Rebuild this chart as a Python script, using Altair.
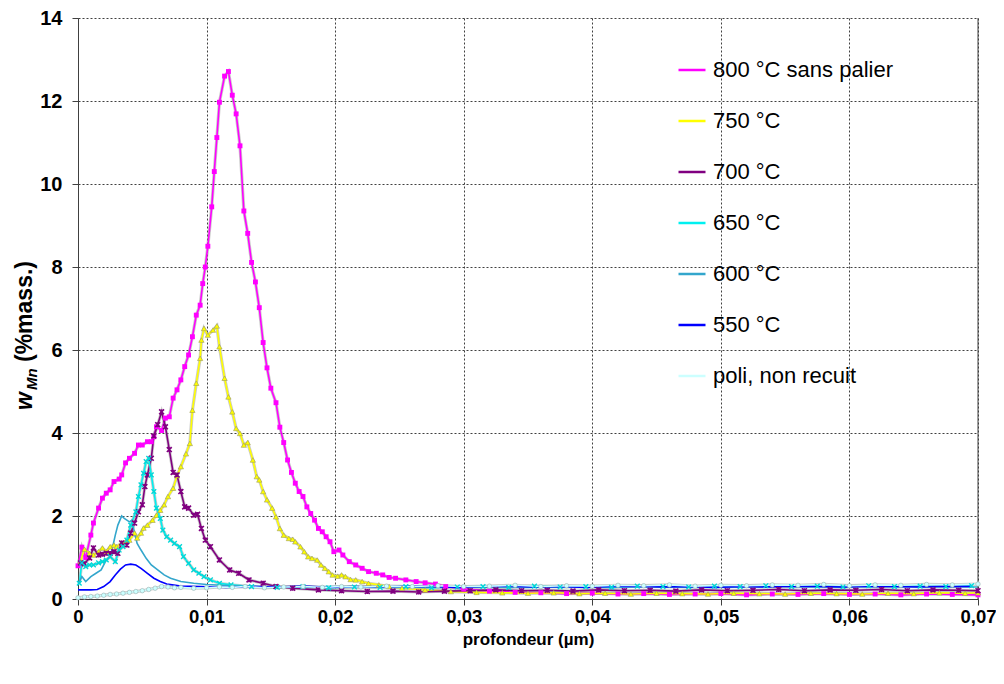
import altair as alt
import pandas as pd

SERIES = ["800 °C sans palier", "750 °C", "700 °C", "650 °C", "600 °C", "550 °C", "poli, non recuit"]
COLORS = ["#FF00FF", "#FFFF00", "#800080", "#00F0F0", "#33A6CC", "#0000FF", "#CCFFFF"]
X_TICKS = [0, 0.01, 0.02, 0.03, 0.04, 0.05, 0.06, 0.07]
Y_TICKS = [0, 2, 4, 6, 8, 10, 12, 14]

X800 = [0.0000, 0.0003, 0.0006, 0.0010, 0.0012, 0.0016, 0.0019, 0.0022, 0.0025, 0.0028,
        0.0032, 0.0034, 0.0037, 0.0040, 0.0044, 0.0047, 0.0050, 0.0054, 0.0057, 0.0059,
        0.0061, 0.0065, 0.0068, 0.0071, 0.0074, 0.0077, 0.0080, 0.0083, 0.0086, 0.0089,
        0.0092, 0.0095, 0.0097, 0.0099, 0.0101, 0.0104, 0.0106, 0.0108, 0.0110, 0.0114,
        0.0117, 0.0120, 0.0123, 0.0126, 0.0129, 0.0132, 0.0135, 0.0138, 0.0141, 0.0144,
        0.0147, 0.0150, 0.0154, 0.0157, 0.0160, 0.0163, 0.0166, 0.0169, 0.0172, 0.0175,
        0.0178, 0.0181, 0.0184, 0.0187, 0.0190, 0.0193, 0.0196, 0.0199, 0.0203, 0.0206,
        0.0211, 0.0216, 0.0221, 0.0226, 0.0232, 0.0237, 0.0242, 0.0247, 0.0255, 0.0263,
        0.0270, 0.0278, 0.0286, 0.0300, 0.0320, 0.0340, 0.0360, 0.0380, 0.0400, 0.0420,
        0.0440, 0.0460, 0.0480, 0.0500, 0.0520, 0.0540, 0.0560, 0.0580, 0.0600, 0.0620,
        0.0640, 0.0660, 0.0680, 0.0700]
Y800 = [0.80, 1.25, 1.00, 1.54, 1.83, 2.19, 2.43, 2.55, 2.63, 2.83,
        2.89, 2.99, 3.28, 3.39, 3.51, 3.71, 3.71, 3.79, 3.79, 3.91,
        4.15, 4.06, 4.36, 4.39, 4.84, 5.04, 5.28, 5.60, 5.88, 6.32,
        6.84, 7.08, 7.60, 8.00, 8.50, 9.45, 10.30, 11.12, 11.97, 12.60,
        12.71, 12.14, 11.69, 10.92, 9.35, 8.81, 8.11, 7.64, 7.02, 6.18,
        5.57, 5.08, 4.73, 4.14, 3.77, 3.35, 3.05, 2.79, 2.59, 2.47,
        2.22, 2.06, 1.90, 1.70, 1.62, 1.50, 1.38, 1.14, 1.18, 1.06,
        0.90, 0.82, 0.74, 0.66, 0.62, 0.58, 0.52, 0.50, 0.46, 0.42,
        0.39, 0.36, 0.30, 0.24, 0.19, 0.16, 0.15, 0.13, 0.14, 0.12,
        0.13, 0.11, 0.12, 0.13, 0.10, 0.12, 0.11, 0.13, 0.11, 0.12,
        0.10, 0.12, 0.11, 0.10]

X750 = [0.0002, 0.0005, 0.0009, 0.0012, 0.0016, 0.0019, 0.0022, 0.0025, 0.0028, 0.0030,
        0.0034, 0.0037, 0.0040, 0.0044, 0.0046, 0.0049, 0.0051, 0.0054, 0.0058, 0.0061,
        0.0064, 0.0067, 0.0070, 0.0074, 0.0077, 0.0080, 0.0084, 0.0087, 0.0089, 0.0092,
        0.0095, 0.0096, 0.0098, 0.0101, 0.0105, 0.0108, 0.0110, 0.0114, 0.0117, 0.0120,
        0.0123, 0.0126, 0.0129, 0.0132, 0.0136, 0.0139, 0.0141, 0.0144, 0.0147, 0.0151,
        0.0154, 0.0157, 0.0160, 0.0164, 0.0167, 0.0169, 0.0173, 0.0176, 0.0179, 0.0182,
        0.0186, 0.0189, 0.0192, 0.0195, 0.0198, 0.0202, 0.0205, 0.0208, 0.0212, 0.0216,
        0.0221, 0.0226, 0.0234, 0.0242, 0.0252, 0.0270, 0.0290, 0.0310, 0.0330, 0.0350,
        0.0370, 0.0390, 0.0410, 0.0430, 0.0450, 0.0470, 0.0490, 0.0510, 0.0530, 0.0550,
        0.0570, 0.0590, 0.0610, 0.0630, 0.0650, 0.0670, 0.0690, 0.0700]
Y750 = [0.90, 1.20, 1.10, 1.06, 1.14, 1.23, 1.14, 1.26, 1.30, 1.26,
        1.35, 1.38, 1.42, 1.59, 1.47, 1.59, 1.71, 1.78, 1.90, 2.02,
        2.14, 2.27, 2.47, 2.67, 2.97, 3.19, 3.50, 3.75, 4.55, 5.20,
        5.80, 6.24, 6.52, 6.36, 6.48, 6.58, 6.08, 5.32, 4.87, 4.51,
        4.11, 3.99, 3.71, 3.77, 3.35, 2.95, 2.87, 2.59, 2.39, 2.19,
        1.98, 1.70, 1.54, 1.46, 1.44, 1.38, 1.26, 1.14, 1.02, 0.98,
        0.94, 0.82, 0.74, 0.66, 0.58, 0.55, 0.58, 0.54, 0.47, 0.46,
        0.42, 0.38, 0.34, 0.30, 0.26, 0.22, 0.18, 0.16, 0.15, 0.14,
        0.15, 0.13, 0.14, 0.12, 0.14, 0.13, 0.12, 0.14, 0.13, 0.12,
        0.14, 0.13, 0.12, 0.14, 0.13, 0.15, 0.14, 0.15]

X700 = [0.0002, 0.0005, 0.0009, 0.0012, 0.0016, 0.0019, 0.0022, 0.0025, 0.0028, 0.0031,
        0.0034, 0.0038, 0.0041, 0.0044, 0.0047, 0.0050, 0.0052, 0.0054, 0.0057, 0.0059,
        0.0062, 0.0065, 0.0068, 0.0071, 0.0074, 0.0077, 0.0080, 0.0083, 0.0086, 0.0090,
        0.0093, 0.0096, 0.0099, 0.0103, 0.0110, 0.0118, 0.0125, 0.0133, 0.0144, 0.0154,
        0.0167, 0.0187, 0.0205, 0.0225, 0.0245, 0.0265, 0.0285, 0.0305, 0.0325, 0.0345,
        0.0365, 0.0385, 0.0405, 0.0425, 0.0445, 0.0465, 0.0485, 0.0505, 0.0525, 0.0545,
        0.0565, 0.0585, 0.0605, 0.0625, 0.0645, 0.0665, 0.0685, 0.0700]
Y700 = [0.87, 0.85, 0.99, 1.23, 1.06, 1.08, 1.10, 1.10, 1.14, 1.10,
        1.35, 1.30, 1.59, 1.83, 2.10, 2.27, 2.71, 2.99, 3.39, 3.93,
        4.20, 4.51, 4.15, 3.60, 3.05, 2.99, 2.59, 2.22, 2.19, 2.02,
        2.04, 1.70, 1.42, 1.26, 0.94, 0.70, 0.62, 0.46, 0.38, 0.30,
        0.26, 0.22, 0.20, 0.18, 0.19, 0.17, 0.19, 0.20, 0.22, 0.20,
        0.21, 0.19, 0.22, 0.20, 0.21, 0.19, 0.22, 0.20, 0.21, 0.23,
        0.20, 0.22, 0.21, 0.23, 0.20, 0.22, 0.21, 0.20]

X650 = [0.0001, 0.0003, 0.0006, 0.0009, 0.0012, 0.0016, 0.0019, 0.0022, 0.0025, 0.0029,
        0.0032, 0.0035, 0.0038, 0.0041, 0.0045, 0.0047, 0.0049, 0.0051, 0.0053, 0.0055,
        0.0057, 0.0059, 0.0061, 0.0064, 0.0066, 0.0069, 0.0072, 0.0075, 0.0079, 0.0082,
        0.0086, 0.0090, 0.0094, 0.0098, 0.0103, 0.0110, 0.0119, 0.0135, 0.0155, 0.0175,
        0.0195, 0.0215, 0.0235, 0.0255, 0.0275, 0.0295, 0.0315, 0.0335, 0.0355, 0.0375,
        0.0395, 0.0415, 0.0435, 0.0455, 0.0475, 0.0495, 0.0515, 0.0535, 0.0555, 0.0575,
        0.0595, 0.0615, 0.0635, 0.0655, 0.0675, 0.0695]
Y650 = [0.38, 0.87, 0.78, 0.82, 0.82, 0.87, 0.90, 0.94, 1.02, 0.90,
        1.18, 1.26, 1.42, 1.78, 2.10, 2.47, 2.75, 3.03, 3.31, 3.39,
        2.99, 2.59, 2.19, 1.94, 1.66, 1.50, 1.42, 1.34, 1.26, 1.02,
        0.86, 0.70, 0.62, 0.54, 0.46, 0.38, 0.34, 0.30, 0.28, 0.30,
        0.27, 0.29, 0.28, 0.30, 0.27, 0.29, 0.30, 0.28, 0.31, 0.29,
        0.30, 0.28, 0.31, 0.30, 0.29, 0.31, 0.30, 0.32, 0.30, 0.31,
        0.29, 0.32, 0.30, 0.31, 0.30, 0.32]

X600 = [0.0000, 0.0003, 0.0006, 0.0010, 0.0014, 0.0018, 0.0022, 0.0025, 0.0027, 0.0029,
        0.0031, 0.0034, 0.0036, 0.0040, 0.0042, 0.0044, 0.0046, 0.0049, 0.0053, 0.0057,
        0.0062, 0.0067, 0.0072, 0.0080, 0.0090, 0.0100, 0.0120, 0.0140, 0.0170, 0.0200,
        0.0250, 0.0300, 0.0350, 0.0400, 0.0450, 0.0500, 0.0550, 0.0600, 0.0650, 0.0700]
Y600 = [0.34, 0.54, 0.42, 0.54, 0.62, 0.70, 0.94, 1.02, 1.26, 1.54,
        1.78, 2.00, 1.94, 1.86, 1.90, 1.58, 1.34, 1.18, 0.98, 0.82,
        0.70, 0.58, 0.50, 0.42, 0.38, 0.35, 0.32, 0.30, 0.29, 0.30,
        0.28, 0.29, 0.28, 0.30, 0.29, 0.28, 0.30, 0.29, 0.30, 0.29]

X550 = [0.0000, 0.0005, 0.0010, 0.0015, 0.0020, 0.0025, 0.0029, 0.0033, 0.0037, 0.0041,
        0.0045, 0.0049, 0.0054, 0.0059, 0.0064, 0.0069, 0.0080, 0.0095, 0.0115, 0.0135,
        0.0155, 0.0175, 0.0195, 0.0215, 0.0235, 0.0255, 0.0275, 0.0295, 0.0315, 0.0335,
        0.0355, 0.0375, 0.0395, 0.0415, 0.0435, 0.0455, 0.0475, 0.0495, 0.0515, 0.0535,
        0.0555, 0.0575, 0.0595, 0.0615, 0.0635, 0.0655, 0.0675, 0.0695]
Y550 = [0.22, 0.22, 0.22, 0.23, 0.30, 0.42, 0.58, 0.72, 0.82, 0.84,
        0.82, 0.74, 0.62, 0.50, 0.42, 0.36, 0.31, 0.30, 0.28, 0.30,
        0.29, 0.31, 0.28, 0.30, 0.29, 0.31, 0.30, 0.28, 0.30, 0.31,
        0.29, 0.30, 0.28, 0.30, 0.31, 0.29, 0.30, 0.28, 0.30, 0.29,
        0.31, 0.30, 0.29, 0.31, 0.30, 0.29, 0.31, 0.30]

XPOLI = [0.0000, 0.0005, 0.0010, 0.0015, 0.0020, 0.0025, 0.0030, 0.0035, 0.0040, 0.0045,
         0.0050, 0.0055, 0.0060, 0.0065, 0.0070, 0.0075, 0.0080, 0.0090, 0.0100, 0.0110,
         0.0120, 0.0130, 0.0145, 0.0160, 0.0175, 0.0190, 0.0205, 0.0220, 0.0240, 0.0260,
         0.0280, 0.0300, 0.0320, 0.0340, 0.0360, 0.0380, 0.0400, 0.0420, 0.0440, 0.0460,
         0.0480, 0.0500, 0.0520, 0.0540, 0.0560, 0.0580, 0.0600, 0.0620, 0.0640, 0.0660,
         0.0680, 0.0700]
YPOLI = [0.03, 0.05, 0.06, 0.07, 0.09, 0.11, 0.12, 0.14, 0.16, 0.18,
         0.20, 0.23, 0.26, 0.30, 0.29, 0.27, 0.28, 0.26, 0.27, 0.29,
         0.28, 0.30, 0.27, 0.29, 0.30, 0.28, 0.30, 0.29, 0.31, 0.30,
         0.32, 0.30, 0.31, 0.33, 0.30, 0.32, 0.31, 0.33, 0.32, 0.34,
         0.31, 0.33, 0.32, 0.34, 0.33, 0.35, 0.32, 0.34, 0.33, 0.35,
         0.34, 0.36]

XS = [X800, X750, X700, X650, X600, X550, XPOLI]
YS = [Y800, Y750, Y700, Y650, Y600, Y550, YPOLI]

frames = []
for k, (name, xs, ys) in enumerate(zip(SERIES, XS, YS)):
    frames.append(pd.DataFrame({"x": xs, "y": ys, "series": name,
                                "idx": list(range(len(xs))), "rank": k}))
df = pd.concat(frames, ignore_index=True)

FONT = "Liberation Sans"
GRID = "#404040"

x_enc = alt.X("x:Q", scale=alt.Scale(domain=[0, 0.07], nice=False, zero=False),
              axis=alt.Axis(values=X_TICKS, title="profondeur (µm)",
                            labelExpr="datum.value == 0 ? '0' : replace(format(datum.value, '.2f'), '.', ',')",
                            labelFontSize=18.5, labelFontWeight="bold", labelColor="black",
                            labelPadding=2, titleFontSize=17, titleFontWeight="bold",
                            titleColor="black", titlePadding=6,
                            grid=True, gridDash=[2, 2], gridColor=GRID, gridOpacity=1,
                            domainColor=GRID, tickColor=GRID, tickSize=6, labelFlush=False))
y_enc = alt.Y("y:Q", scale=alt.Scale(domain=[0, 14], nice=False),
              axis=alt.Axis(values=Y_TICKS, title=None,
                            labelFontSize=20, labelFontWeight="bold", labelColor="black",
                            labelPadding=10, grid=True, gridDash=[2, 2], gridColor=GRID,
                            gridOpacity=1, domainColor=GRID, tickColor=GRID, tickSize=6))

base = alt.Chart(df).encode(x=x_enc, y=y_enc)

shadow = base.transform_filter(
    alt.FieldOneOfPredicate(field="series", oneOf=[SERIES[0], SERIES[1], SERIES[2], SERIES[3], SERIES[6]])
).mark_line(color="#8a8a8a", strokeWidth=3.2, opacity=0.45).encode(
    detail="series:N", order="idx:Q")

lines = base.mark_line(strokeWidth=1.6).encode(
    color=alt.Color("series:N", scale=alt.Scale(domain=SERIES, range=COLORS),
                    legend=alt.Legend(title=None, orient="none", legendX=599, legendY=37,
                                      symbolType="stroke", symbolSize=729, symbolStrokeWidth=2.5,
                                      labelFontSize=22, labelFont=FONT, labelColor="black",
                                      rowPadding=25, labelOffset=6, labelLimit=320)),
    detail="series:N", order="idx:Q")

def pts(name, **kw):
    return base.transform_filter(alt.datum.series == name).mark_point(**kw)

p800 = pts(SERIES[0], shape="square", filled=True, color="#FF00FF", size=24, opacity=1)
p750 = pts(SERIES[1], shape="triangle-up", filled=True, fill="#FFFF00", stroke="#9a9a60",
           strokeWidth=0.6, size=28, opacity=1)
p700 = pts(SERIES[2], shape="M-1,-1L1,1M1,-1L-1,1M0,-1L0,1", filled=False, color="#800080",
           strokeWidth=1.6, size=24, opacity=1)
p650 = pts(SERIES[3], shape="M-1,-1L1,1M1,-1L-1,1", filled=False, color="#00D8D8",
           strokeWidth=1.4, size=22, opacity=1)
ppoli = pts(SERIES[6], shape="circle", filled=True, fill="#CCFFFF", stroke="#9ab0b0",
            strokeWidth=0.6, size=20, opacity=1)

edge = alt.Chart(pd.DataFrame({"x": [X_TICKS[-1]]})).mark_rule(color=GRID, strokeWidth=1).encode(x="x:Q")

title_w = alt.Chart(pd.DataFrame({"t": ["w"]})).mark_text(
    angle=270, align="left", baseline="middle", font=FONT, fontSize=23,
    fontWeight="bold", fontStyle="italic", color="black").encode(
    text="t:N", x=alt.value(-53), y=alt.value(392))
title_mn = alt.Chart(pd.DataFrame({"t": ["Mn"]})).mark_text(
    angle=270, align="left", baseline="middle", font=FONT, fontSize=15,
    fontWeight="bold", fontStyle="italic", color="black").encode(
    text="t:N", x=alt.value(-46), y=alt.value(372))
title_rest = alt.Chart(pd.DataFrame({"t": ["(%mass.)"]})).mark_text(
    angle=270, align="left", baseline="middle", font=FONT, fontSize=23,
    fontWeight="bold", color="black").encode(
    text="t:N", x=alt.value(-53), y=alt.value(344))

chart = alt.layer(shadow, lines, edge, p800, p750, p700, p650, ppoli,
                  title_w, title_mn, title_rest).properties(
    width=900, height=581,
    autosize=alt.AutoSizeParams(type="none"),
    padding={"left": 70, "top": 10, "right": 18, "bottom": 74},
).configure(font=FONT).configure_view(stroke=None)

chart.save("out.html", embed_options={"renderer": "svg", "actions": False})
